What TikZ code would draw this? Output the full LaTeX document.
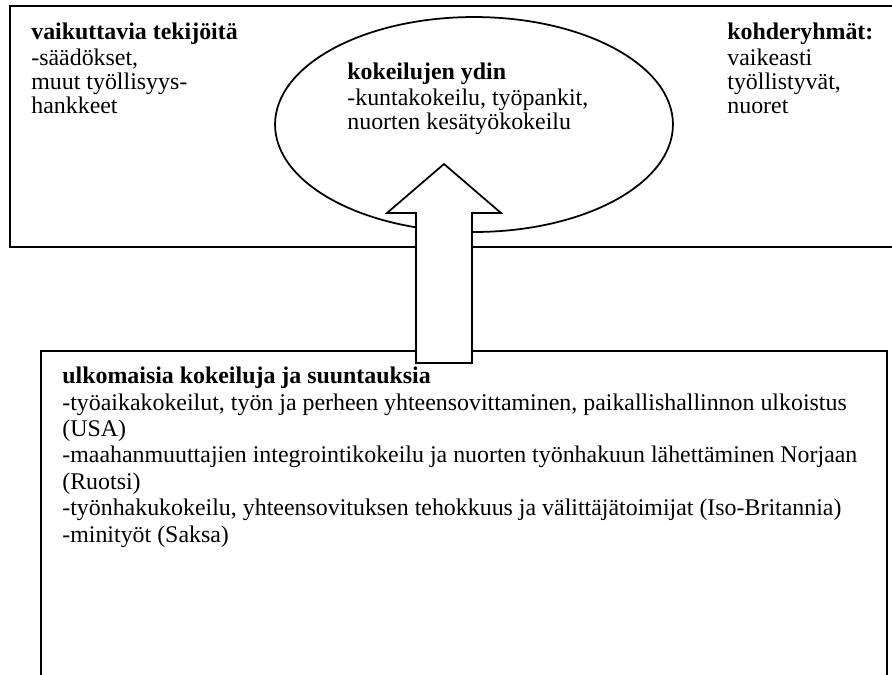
\documentclass[tikz,border=0pt]{standalone}
\usepackage{fontspec}
\setmainfont{Liberation Serif}

\begin{document}
\begin{tikzpicture}[x=0.02cm, y=-0.02cm]

\tikzset{box/.style = {draw, line width=1pt}}
\tikzset{label text/.style = {anchor=base west, inner sep=0pt, align=left}}
\tikzset{top text/.style = {label text, font=\fontsize{13.6}{13.6}\selectfont}}
\tikzset{bottom text/.style = {label text, font=\fontsize{13.6}{15}\selectfont}}

\useasboundingbox (0,0) rectangle (892,674);
\clip (0,0) rectangle (892,674);

%boxes
\draw [box] (10,6) rectangle (910,247);
\draw [box] (474,124.5) ellipse [x radius=3.98cm, y radius=2.15cm];
\draw [box] (41,351) rectangle (887,700);

%arrow
\coordinate (tail) at (444,363);
\coordinate (tip) at (444,164);
\draw [box, fill=white, line join=miter]
  (416,363) -- (416,213) -- (387,213) -- (tip) -- (501,213) -- (472,213) -- (472,363) -- cycle;

%texts (anchored at the baseline of the last line)
\node [top text] (factors) at (31,113) {\textbf{vaikuttavia tekijöitä}\\[1.1pt]-säädökset,\\muut työllisyys-\\hankkeet};
\node [top text] (core) at (347,129) {\textbf{kokeilujen ydin}\\[1.1pt]-kuntakokeilu, työpankit,\\nuorten kesätyökokeilu};
\node [top text] (groups) at (727,113) {\textbf{kohderyhmät:}\\[1.1pt]vaikeasti\\työllistyvät,\\nuoret};
\node [bottom text] (abroad) at (62,542) {\textbf{ulkomaisia kokeiluja ja suuntauksia}\\
-työaikakokeilut, työn ja perheen yhteensovittaminen, paikallishallinnon ulkoistus\\
(USA)\\
-maahanmuuttajien integrointikokeilu ja nuorten työnhakuun lähettäminen Norjaan\\
(Ruotsi)\\
-työnhakukokeilu, yhteensovituksen tehokkuus ja välittäjätoimijat (Iso-Britannia)\\
-minityöt (Saksa)};

\end{tikzpicture}
\end{document}
